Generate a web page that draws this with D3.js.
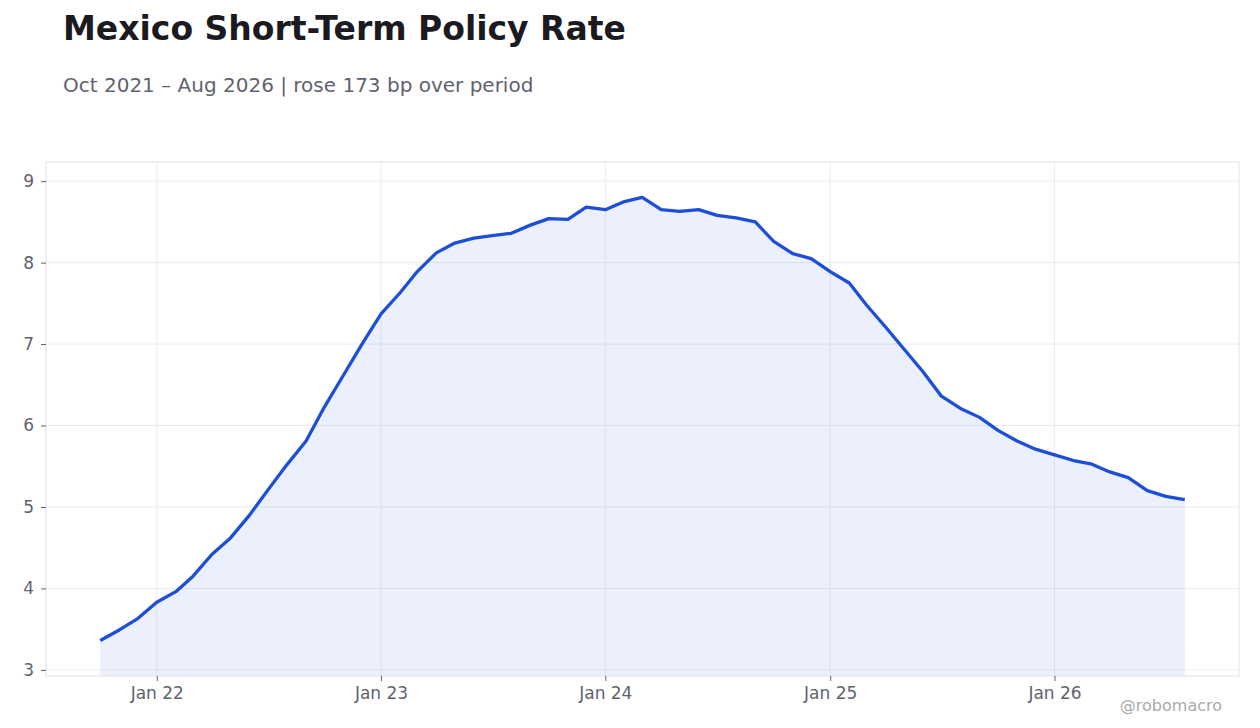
<!DOCTYPE html>
<html>
  <head>
    <meta http-equiv="Content-Type" content="text/html;charset=utf-8"/>
    <title>Mexico Short-Term Policy Rate</title>
    <script src="https://d3js.org/d3.v7.min.js"></script>
    <style>
      body { margin: 0; background: #fff; }
      text { font-family: "DejaVu Sans", sans-serif; }
    </style>
  </head>
  <body>
    <script type="text/javascript">
        // monthly readings, Oct 2021 .. Aug 2026
        const startMonth = "2021-10"
        const rates = [
            3.36, 3.49, 3.63, 3.83, 3.96, 4.15, 4.42, 4.62, 4.90, 5.21, 5.52, 5.81,
            6.23, 6.62, 7.00, 7.37, 7.63, 7.89, 8.12, 8.24, 8.30, 8.33, 8.36, 8.46,
            8.54, 8.53, 8.68, 8.65, 8.75, 8.80, 8.65, 8.63, 8.65, 8.58, 8.55, 8.50,
            8.26, 8.11, 8.05, 7.89, 7.75, 7.48, 7.21, 6.94, 6.66, 6.36, 6.21, 6.10,
            5.94, 5.81, 5.71, 5.64, 5.57, 5.53, 5.43, 5.36, 5.20, 5.13, 5.09
        ]
        const yTicks = [3, 4, 5, 6, 7, 8, 9]
        const xTickYears = [2022, 2023, 2024, 2025, 2026]

        const title = "Mexico Short-Term Policy Rate"
        const subtitle = "Oct 2021 \u2013 Aug 2026 | rose 173 bp over period"
        const credit = "@robomacro"

        const width = 1260,
              height = 728
        const margin = {top: 162, right: 21, bottom: 52, left: 46}

        const parse = d3.timeParse("%Y-%m")
        const t0 = parse(startMonth)
        const data = rates.map((v, i) => ({date: d3.timeMonth.offset(t0, i), value: v}))

        const svg = d3.select("body").append("svg")
            .attr("width", width)
            .attr("height", height)

        // 5% padding in time, 8% in value
        const [d0, d1] = d3.extent(data, d => d.date)
        const tPad = (d1 - d0) * 0.05
        const [v0, v1] = d3.extent(data, d => d.value)
        const vPad = (v1 - v0) * 0.08

        const x = d3.scaleTime()
            .domain([new Date(+d0 - tPad), new Date(+d1 + tPad)])
            .range([margin.left, width - margin.right])

        const y = d3.scaleLinear()
            .domain([v0 - vPad, v1 + vPad])
            .range([height - margin.bottom, margin.top])

        const xTicks = xTickYears.map(yr => new Date(yr, 0, 1))

        // grid
        svg.append("g")
            .selectAll("line")
            .data(yTicks)
            .enter()
            .append("line")
            .attr("x1", margin.left)
            .attr("x2", width - margin.right)
            .attr("y1", d => y(d))
            .attr("y2", d => y(d))
            .attr("stroke", "#ececf0")
            .attr("stroke-width", 1)

        svg.append("g")
            .selectAll("line")
            .data(xTicks)
            .enter()
            .append("line")
            .attr("x1", d => x(d))
            .attr("x2", d => x(d))
            .attr("y1", margin.top)
            .attr("y2", height - margin.bottom)
            .attr("stroke", "#ececf0")
            .attr("stroke-width", 1)

        // area + line
        const area = d3.area()
            .x(d => x(d.date))
            .y0(height - margin.bottom)
            .y1(d => y(d.value))

        const line = d3.line()
            .x(d => x(d.date))
            .y(d => y(d.value))

        svg.append("path")
            .datum(data)
            .attr("d", area)
            .attr("fill", "#1d4ed8")
            .attr("fill-opacity", 0.085)

        svg.append("path")
            .datum(data)
            .attr("d", line)
            .attr("fill", "none")
            .attr("stroke", "#1d4ed8")
            .attr("stroke-width", 3.3)
            .attr("stroke-linejoin", "round")

        // frame
        svg.append("rect")
            .attr("x", margin.left)
            .attr("y", margin.top)
            .attr("width", width - margin.left - margin.right)
            .attr("height", height - margin.top - margin.bottom)
            .attr("fill", "none")
            .attr("stroke", "#e2e2e6")

        // axes
        const xAxis = svg.append("g")
            .attr("transform", "translate(0," + (height - margin.bottom) + ")")
            .call(d3.axisBottom(x).tickValues(xTicks).tickFormat(d3.timeFormat("%b %y")).tickSize(5).tickPadding(6))
        const yAxis = svg.append("g")
            .attr("transform", "translate(" + margin.left + ",0)")
            .call(d3.axisLeft(y).tickValues(yTicks).tickFormat(d3.format("d")).tickSize(5).tickPadding(7))

        for (const ax of [xAxis, yAxis]) {
            ax.select(".domain").remove()
            ax.selectAll(".tick line").attr("stroke", "#5f6270")
            ax.selectAll(".tick text")
                .attr("fill", "#5f6270")
                .style("font-size", "17px")
                .style("font-family", "DejaVu Sans, sans-serif")
        }

        // titles
        svg.append("text")
            .attr("x", 63)
            .attr("y", 40)
            .text(title)
            .style("font-size", "33px")
            .style("font-weight", "bold")
            .style("fill", "#1a1a1f")

        svg.append("text")
            .attr("x", 63)
            .attr("y", 92)
            .text(subtitle)
            .style("font-size", "20px")
            .style("fill", "#5f6270")

        svg.append("text")
            .attr("x", 1222)
            .attr("y", 711)
            .attr("text-anchor", "end")
            .text(credit)
            .style("font-size", "16px")
            .style("fill", "#aaaaaa")
    </script>
  </body>
</html>
